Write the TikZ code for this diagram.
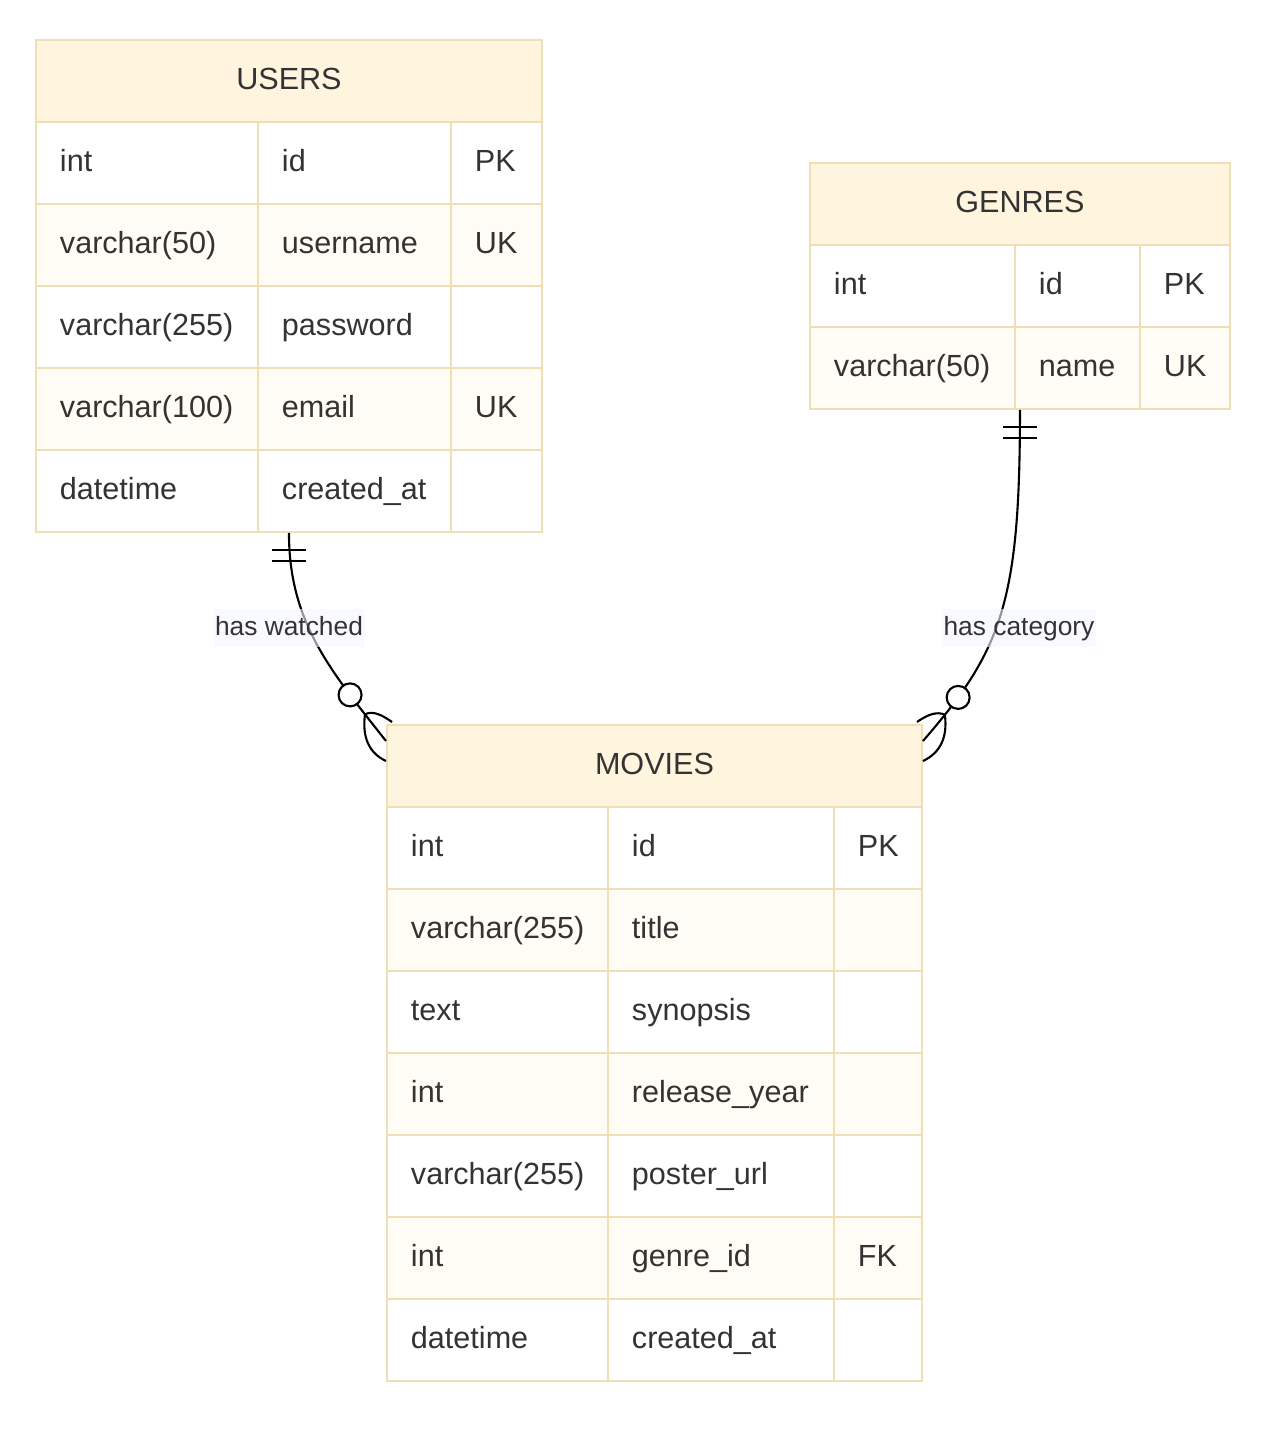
\documentclass[tikz,border=0pt]{standalone}
\usepackage{fontspec}
\setmainfont{Liberation Sans}
\usepackage{xcolor}
\usepackage{tikz}
\usetikzlibrary{calc}
\definecolor{erhead}{HTML}{FFF4DD}
\definecolor{erline}{HTML}{EFDFB6}
\definecolor{eralt}{HTML}{FFFCF5}
\definecolor{ertext}{HTML}{333333}
\definecolor{erlabel}{HTML}{F5F6FF}
\hyphenpenalty=10000

\begin{document}
\begin{tikzpicture}[
    % GLOBAL CFG
    font=\fontsize{17.4pt}{20pt}\selectfont,
    text=ertext,
    % Styles
    head/.style={% For the table titles
        rectangle,
        draw=erline,
        line width=1.1pt,
        fill=erhead,
        anchor=north west,
        minimum height=1.64cm,
        text height=0.5cm,
        text depth=0.16cm,
        },
    cell/.style={% For one field of a table
        rectangle,
        draw=erline,
        line width=1.1pt,
        fill=white,
        anchor=north west,
        align=left,
        text width=#1,
        inner xsep=0.48cm,
        inner ysep=0pt,
        minimum height=1.64cm,
        text height=0.5cm,
        text depth=0.16cm,
        },
    alt/.style={% every second row
        fill=eralt,
        },
    rel/.style={% For the relation lines
        line width=1.2pt,
        black,
        },
    ring/.style={% zero side of the crow foot
        circle,
        draw,
        fill=white,
        line width=1.2pt,
        minimum size=0.46cm,
        inner sep=0pt,
        },
    rellabel/.style={% texts on the relations
        font=\fontsize{15pt}{18pt}\selectfont,
        fill=erlabel,
        fill opacity=0.6,
        text opacity=1,
        inner xsep=1pt,
        inner ysep=0pt,
        text height=0.42cm,
        text depth=0.12cm,
        minimum height=0.76cm,
        },
    ]

    \useasboundingbox (0,0) rectangle (25.6,-28.74);

    % Draw the USERS table, cells named u<row><t|n|k>
    \node [head, minimum width=10.12cm] (uh) at (0.70,-0.78) {USERS};
    \node [cell=3.48cm] (u1t) at (0.70,-2.42) {int};
    \node [cell=2.90cm] (u1n) at (5.14,-2.42) {id};
    \node [cell=0.86cm] (u1k) at (9.00,-2.42) {PK};
    \node [cell=3.48cm, alt] (u2t) at (0.70,-4.06) {varchar(50)};
    \node [cell=2.90cm, alt] (u2n) at (5.14,-4.06) {username};
    \node [cell=0.86cm, alt] (u2k) at (9.00,-4.06) {UK};
    \node [cell=3.48cm] (u3t) at (0.70,-5.70) {varchar(255)};
    \node [cell=2.90cm] (u3n) at (5.14,-5.70) {password};
    \node [cell=0.86cm] (u3k) at (9.00,-5.70) {};
    \node [cell=3.48cm, alt] (u4t) at (0.70,-7.34) {varchar(100)};
    \node [cell=2.90cm, alt] (u4n) at (5.14,-7.34) {email};
    \node [cell=0.86cm, alt] (u4k) at (9.00,-7.34) {UK};
    \node [cell=3.48cm] (u5t) at (0.70,-8.98) {datetime};
    \node [cell=2.90cm] (u5n) at (5.14,-8.98) {created\_at};
    \node [cell=0.86cm] (u5k) at (9.00,-8.98) {};

    % Draw the GENRES table, cells named g<row><t|n|k>
    \node [head, minimum width=8.40cm] (gh) at (16.18,-3.24) {GENRES};
    \node [cell=3.14cm] (g1t) at (16.18,-4.88) {int};
    \node [cell=1.54cm] (g1n) at (20.28,-4.88) {id};
    \node [cell=0.84cm] (g1k) at (22.78,-4.88) {PK};
    \node [cell=3.14cm, alt] (g2t) at (16.18,-6.52) {varchar(50)};
    \node [cell=1.54cm, alt] (g2n) at (20.28,-6.52) {name};
    \node [cell=0.84cm, alt] (g2k) at (22.78,-6.52) {UK};

    % Draw the MOVIES table, cells named m<row><t|n|k>
    \node [head, minimum width=10.70cm] (mh) at (7.72,-14.48) {MOVIES};
    \node [cell=3.46cm] (m1t) at (7.72,-16.12) {int};
    \node [cell=3.56cm] (m1n) at (12.14,-16.12) {id};
    \node [cell=0.80cm] (m1k) at (16.66,-16.12) {PK};
    \node [cell=3.46cm, alt] (m2t) at (7.72,-17.76) {varchar(255)};
    \node [cell=3.56cm, alt] (m2n) at (12.14,-17.76) {title};
    \node [cell=0.80cm, alt] (m2k) at (16.66,-17.76) {};
    \node [cell=3.46cm] (m3t) at (7.72,-19.40) {text};
    \node [cell=3.56cm] (m3n) at (12.14,-19.40) {synopsis};
    \node [cell=0.80cm] (m3k) at (16.66,-19.40) {};
    \node [cell=3.46cm, alt] (m4t) at (7.72,-21.04) {int};
    \node [cell=3.56cm, alt] (m4n) at (12.14,-21.04) {release\_year};
    \node [cell=0.80cm, alt] (m4k) at (16.66,-21.04) {};
    \node [cell=3.46cm] (m5t) at (7.72,-22.68) {varchar(255)};
    \node [cell=3.56cm] (m5n) at (12.14,-22.68) {poster\_url};
    \node [cell=0.80cm] (m5k) at (16.66,-22.68) {};
    \node [cell=3.46cm, alt] (m6t) at (7.72,-24.32) {int};
    \node [cell=3.56cm, alt] (m6n) at (12.14,-24.32) {genre\_id};
    \node [cell=0.80cm, alt] (m6k) at (16.66,-24.32) {FK};
    \node [cell=3.46cm] (m7t) at (7.72,-25.96) {datetime};
    \node [cell=3.56cm] (m7n) at (12.14,-25.96) {created\_at};
    \node [cell=0.80cm] (m7k) at (16.66,-25.96) {};

    % End points of the relations
    \coordinate (uS) at (uh.center |- u5t.south);
    \coordinate (gS) at (gh.center |- g2t.south);
    \coordinate (mL) at ($(mh.north west)+(0,-0.34)$);
    \coordinate (mR) at ($(mh.north east)+(0,-0.34)$);

    % USERS ||--o{ MOVIES
    \draw [rel] (uS) .. controls +(0,-1.78) and +(-1.12,1.42) .. (mL)
        coordinate [pos=0.87] (ucrow)
        node [ring, pos=0.77] (uring) {};
    \draw [rel] ($(uS)+(-0.34,-0.34)$) -- ++(0.68,0); % tally marks
    \draw [rel] ($(uS)+(-0.34,-0.56)$) -- ++(0.68,0);
    \draw [rel] (ucrow) .. controls +(0.16,0.08) and +(-0.2,0.14) .. ($(mh.north west)+(0.12,0.04)$);
    \draw [rel] (ucrow) .. controls +(-0.06,-0.46) and +(-0.34,0.16) .. ($(mh.north west)+(0,-0.74)$);

    % GENRES ||--o{ MOVIES
    \draw [rel] (gS) .. controls +(0,-3.84) and +(1.58,1.82) .. (mR)
        coordinate [pos=0.90] (gcrow)
        node [ring, pos=0.83] (gring) {};
    \draw [rel] ($(gS)+(-0.34,-0.34)$) -- ++(0.68,0); % tally marks
    \draw [rel] ($(gS)+(-0.34,-0.56)$) -- ++(0.68,0);
    \draw [rel] (gcrow) .. controls +(-0.16,0.08) and +(0.2,0.14) .. ($(mh.north east)+(-0.12,0.04)$);
    \draw [rel] (gcrow) .. controls +(0.06,-0.46) and +(0.34,0.16) .. ($(mh.north east)+(0,-0.74)$);

    % Labels on top of the lines
    \node [rellabel] (lwatched) at (5.78,-12.56) {has watched};
    \node [rellabel] (lcategory) at (20.38,-12.56) {has category};

\end{tikzpicture}
\end{document}
